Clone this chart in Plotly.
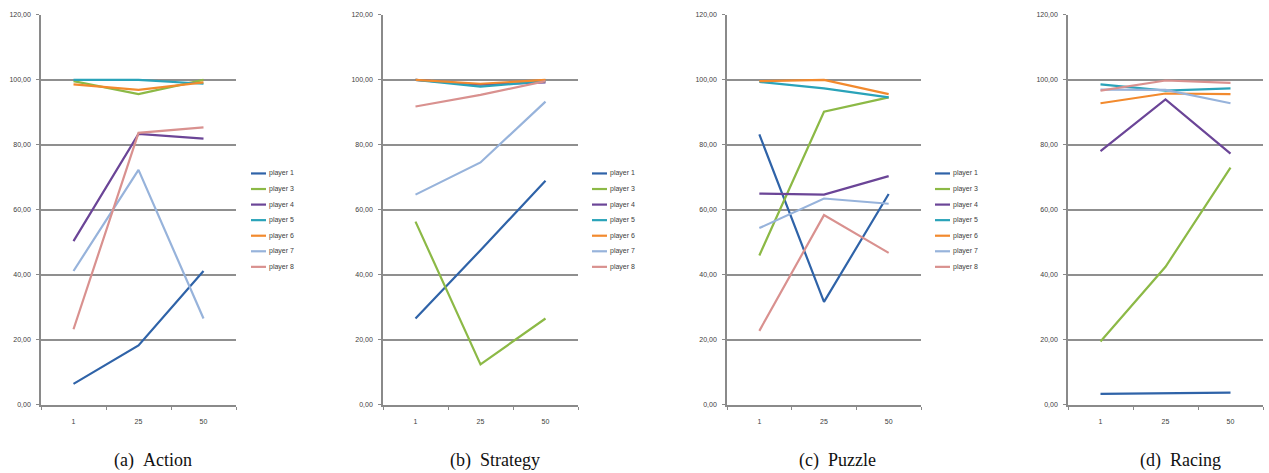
import plotly.graph_objects as go

# Sessions on the category axis
sessions = ["1", "25", "50"]

players = ["player 1", "player 3", "player 4", "player 5", "player 6", "player 7", "player 8"]
colors = ["#2f63a8", "#8cb946", "#6b4597", "#2aa3b9", "#f28a2e", "#97b3db", "#d9918f"]

# Scores per genre, one list per player (values at sessions 1, 25, 50)
action = {
    "player 1": [6.5, 18.3, 41.2],
    "player 3": [99.6, 95.6, 100.0],
    "player 4": [50.4, 83.4, 81.9],
    "player 5": [100.0, 100.0, 98.8],
    "player 6": [98.6, 96.9, 99.2],
    "player 7": [41.2, 72.3, 26.6],
    "player 8": [23.3, 83.7, 85.4],
}
strategy = {
    "player 1": [26.6, 47.6, 69.0],
    "player 3": [56.4, 12.5, 26.6],
    "player 4": [100.0, 98.5, 99.2],
    "player 5": [100.0, 97.9, 99.6],
    "player 6": [100.0, 98.8, 100.0],
    "player 7": [64.7, 74.6, 93.3],
    "player 8": [91.8, 95.4, 99.6],
}
puzzle = {
    "player 1": [83.2, 31.7, 64.9],
    "player 3": [46.0, 90.2, 94.6],
    "player 4": [65.0, 64.7, 70.4],
    "player 5": [99.4, 97.4, 94.6],
    "player 6": [99.6, 100.0, 95.6],
    "player 7": [54.4, 63.5, 61.9],
    "player 8": [22.8, 58.4, 46.8],
}
racing = {
    "player 1": [3.4, 3.7, 3.8],
    "player 3": [19.5, 42.5, 73.0],
    "player 4": [78.1, 94.0, 77.3],
    "player 5": [98.6, 96.7, 97.4],
    "player 6": [92.8, 95.8, 95.6],
    "player 7": [97.0, 96.9, 92.8],
    "player 8": [96.7, 99.8, 99.1],
}

genres = [action, strategy, puzzle, racing]
captions = ["(a)\u00a0\u00a0Action", "(b)\u00a0\u00a0Strategy", "(c)\u00a0\u00a0Puzzle", "(d)\u00a0\u00a0Racing"]
y_ticks = [0, 20, 40, 60, 80, 100, 120]

W, H = 1269, 473
# plot-area pixel extents (left, right) for each panel; shared top/bottom
panel_px = [(41, 236), (383, 578), (727, 921), (1068, 1263)]
top_px, bottom_px = 11, 407
# left edge of each panel's key (the last panel's key lies outside the page)
legend_px = [251, 592, 935, None]
legend_top_px, legend_step_px = 172, 15.8
caption_px = [153, 495, 838, 1180]

fig = go.Figure()
axis_grey = "#8a8a8a"
tick_font = dict(family="Liberation Sans", size=7, color="#404040")

for i, (data, (x0, x1)) in enumerate(zip(genres, panel_px)):
    n = "" if i == 0 else str(i + 1)
    for name, col in zip(players, colors):
        fig.add_trace(go.Scatter(
            x=sessions, y=data[name], mode="lines", name=name,
            line=dict(color=col, width=2.2),
            xaxis="x" + n, yaxis="y" + n, showlegend=False,
        ))
    fig.update_layout({
        "xaxis" + n: dict(
            domain=[x0 / W, x1 / W], anchor="y" + n, type="category",
            range=[-0.5, 2.5], tickson="boundaries", ticks="outside",
            ticklen=3, tickcolor=axis_grey, showline=True, linecolor=axis_grey,
            linewidth=1.5, showgrid=False, tickfont=tick_font, fixedrange=True,
            ticklabelstandoff=9,
        ),
        "yaxis" + n: dict(
            domain=[1 - bottom_px / H, 1 - top_px / H], anchor="x" + n,
            range=[0, 120], tickvals=y_ticks, tickformat=".2f", ticks="outside",
            ticklen=3, tickcolor=axis_grey, showline=True, linecolor=axis_grey,
            linewidth=1.5, showgrid=True, gridcolor="#8f8f8f", gridwidth=1.5,
            zeroline=False, tickfont=tick_font, fixedrange=True,
            ticklabelstandoff=4,
        ),
    })
    # per-panel key: short line sample followed by the player name
    if legend_px[i] is not None:
        lx = legend_px[i]
        for k, (name, col) in enumerate(zip(players, colors)):
            ly = 1 - (legend_top_px + k * legend_step_px) / H
            fig.add_shape(
                type="line", xref="paper", yref="paper",
                x0=lx / W, x1=(lx + 15) / W, y0=ly, y1=ly,
                line=dict(color=col, width=2.2),
            )
            fig.add_annotation(
                x=(lx + 16) / W, y=ly, xref="paper", yref="paper",
                text=name, showarrow=False, xanchor="left", yanchor="middle",
                font=dict(family="Liberation Sans", size=7, color="#404040"),
            )
    fig.add_annotation(
        x=caption_px[i] / W, y=1 - 463 / H, xref="paper", yref="paper",
        text=captions[i], showarrow=False, xanchor="center", yanchor="middle",
        font=dict(family="Liberation Serif", size=18, color="#111111"),
    )

fig.update_layout(
    width=W, height=H, margin=dict(l=0, r=0, t=0, b=0),
    paper_bgcolor="white", plot_bgcolor="white", separators=",.",
    showlegend=False,
)

fig.write_html("out.html")
